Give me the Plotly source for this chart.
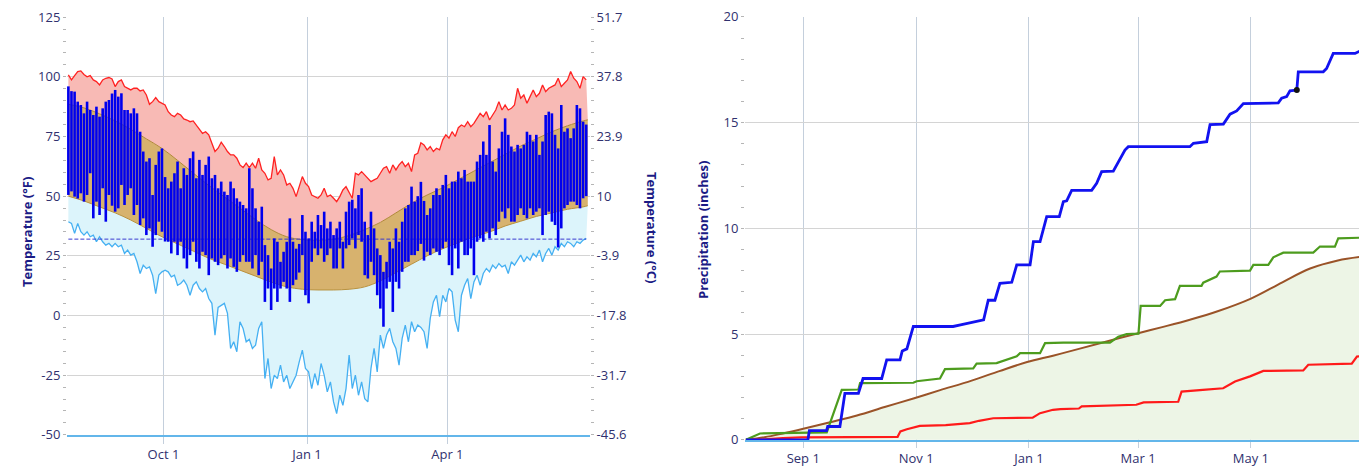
import plotly.graph_objects as go
import pandas as pd

# ---------------- data ----------------
START = "2018-08-01"          # first day shown on both panels
STEP = 2                       # days between samples of the daily temperature series

# Temperature panel (deg F), sampled every STEP days from START
REC_HIGH = [100.8, 98.7, 100.5, 102.2, 102.5, 101.0, 100.0, 100.5, 98.7, 98.0,
            96.6, 98.7, 99.4, 99.7, 99.1, 95.9, 98.0, 98.7, 95.9, 95.2,
            94.5, 95.2, 95.2, 94.1, 94.5, 92.4, 88.5, 89.6, 91.3, 89.6,
            88.9, 88.2, 85.4, 84.0, 83.3, 84.7, 84.0, 82.4, 81.9, 81.2,
            81.5, 79.8, 77.7, 76.3, 77.0, 75.7, 72.2, 68.7, 70.1, 72.6,
            70.8, 68.7, 67.3, 67.3, 65.9, 63.1, 62.0, 63.8, 62.0, 63.8,
            61.7, 65.9, 61.0, 59.6, 56.8, 57.5, 66.6, 58.9, 61.0, 58.9,
            54.7, 55.4, 53.3, 49.8, 54.0, 58.2, 55.4, 54.0, 50.5, 49.8,
            49.1, 50.5, 53.3, 49.8, 50.5, 49.1, 47.7, 49.8, 52.6, 54.0,
            51.2, 49.1, 59.6, 58.9, 60.3, 58.9, 57.5, 56.1, 56.8, 57.5,
            59.6, 61.7, 62.4, 59.6, 63.1, 61.0, 63.1, 64.5, 62.4, 63.8,
            60.3, 67.3, 68.0, 72.4, 71.5, 69.4, 70.8, 68.7, 70.1, 69.4,
            73.6, 75.7, 74.3, 77.0, 75.0, 78.7, 79.8, 79.1, 81.2, 79.1,
            80.5, 82.6, 84.7, 83.3, 85.4, 81.9, 84.0, 86.1, 89.6, 86.1,
            88.2, 86.1, 86.8, 88.2, 95.2, 91.0, 92.4, 88.9, 91.7, 94.5,
            91.7, 93.1, 96.6, 93.8, 95.2, 95.9, 96.6, 99.4, 95.9, 97.3,
            98.7, 102.2, 99.4, 98.0, 95.2, 100.1, 98.7]

REC_LOW = [39.3, 38.6, 34.4, 38.6, 35.1, 33.7, 35.1, 33.0, 33.7, 30.9,
           33.0, 30.9, 29.5, 30.2, 28.8, 30.2, 28.8, 29.5, 26.0, 27.4,
           25.3, 26.0, 22.5, 17.6, 21.1, 19.7, 20.4, 16.9, 9.2, 16.9,
           18.3, 19.0, 18.3, 16.2, 16.9, 12.7, 13.4, 14.8, 12.7, 8.5,
           12.7, 14.1, 11.3, 9.9, 11.3, 7.1, 5.1, -8.2, 3.4, 4.4,
           5.1, 0.9, -13.8, -11.0, -15.2, -2.6, -5.4, -11.0, -10.0, -13.8,
           -12.4, -5.4, -2.6, -26.4, -18.0, -30.6, -25.0, -26.4, -20.8, -27.8,
           -25.0, -30.6, -27.8, -25.0, -19.4, -14.5, -22.2, -23.6, -30.6, -24.3,
           -29.2, -20.1, -25.0, -32.0, -27.8, -36.2, -41.1, -33.4, -37.6, -30.6,
           -16.6, -30.6, -25.0, -33.4, -27.8, -34.8, -36.2, -22.2, -13.8, -23.6,
           -8.2, -13.8, -8.2, -5.4, -11.0, -13.8, -20.8, -9.6, -4.0, -11.0,
           -2.6, -6.8, -4.0, -5.0, -6.8, -13.8, -1.2, 5.7, 8.5, -0.5,
           8.5, 5.7, 11.3, 9.9, -1.9, -6.8, 8.5, 12.7, 15.5, 7.1,
           14.1, 16.9, 12.7, 17.6, 19.7, 18.3, 21.1, 19.7, 21.8, 20.4,
           21.1, 17.6, 22.5, 21.1, 23.2, 25.3, 22.5, 24.6, 23.2, 26.0,
           24.6, 27.4, 22.5, 26.0, 28.1, 25.3, 28.8, 27.4, 30.2, 28.8,
           30.9, 30.2, 28.8, 30.9, 30.2, 31.6, 32.3]

OBS_HIGH = [96.0, 94.0, 93.8, 89.6, 88.2, 84.7, 89.6, 86.1, 84.0, 87.5,
            83.3, 86.8, 89.6, 90.3, 93.0, 94.5, 91.7, 93.1, 86.1, 86.1,
            84.7, 86.8, 84.7, 77.0, 68.7, 64.5, 65.9, 50.5, 63.1, 68.7,
            70.0, 58.0, 53.3, 56.1, 59.6, 64.5, 53.3, 61.7, 58.9, 65.9,
            68.7, 57.5, 65.2, 58.9, 63.1, 66.6, 57.5, 58.9, 53.3, 56.1,
            51.9, 50.5, 56.1, 53.3, 49.1, 47.7, 46.3, 44.9, 61.7, 53.3,
            44.9, 39.3, 45.6, 29.5, 25.3, 19.7, 32.3, 30.9, 22.5, 26.7,
            30.9, 40.7, 30.9, 28.0, 30.0, 42.1, 35.1, 32.3, 39.3, 35.1,
            42.1, 37.9, 43.5, 36.5, 39.3, 33.7, 36.5, 39.3, 30.9, 43.5,
            47.7, 48.5, 44.9, 50.5, 53.3, 39.3, 33.7, 43.5, 36.5, 28.1,
            25.3, 18.3, 22.5, 30.9, 28.1, 36.5, 30.9, 39.3, 44.9, 46.3,
            54.0, 47.7, 50.0, 56.0, 48.0, 42.1, 44.9, 50.5, 53.3, 50.5,
            54.7, 58.9, 53.3, 56.1, 56.1, 60.3, 57.5, 61.0, 56.1, 56.1,
            56.1, 64.5, 67.3, 72.9, 67.3, 79.8, 64.5, 60.3, 70.0, 77.0,
            82.6, 75.7, 70.8, 68.7, 71.5, 70.0, 71.5, 77.0, 75.7, 72.9,
            75.7, 67.3, 72.9, 84.0, 85.4, 84.7, 75.7, 70.0, 88.2, 77.0,
            78.4, 74.3, 78.4, 88.2, 86.8, 81.2, 80.0]

OBS_LOW = [50.5, 52.0, 49.8, 49.0, 51.2, 47.7, 50.5, 59.6, 40.7, 47.7,
           42.1, 53.3, 39.3, 50.5, 46.0, 43.5, 44.9, 54.7, 46.3, 50.5,
           53.3, 42.1, 46.3, 37.9, 40.7, 33.7, 36.5, 28.8, 33.7, 39.3,
           35.1, 31.0, 30.9, 26.0, 30.9, 25.3, 30.9, 23.9, 19.7, 25.3,
           30.9, 22.5, 19.7, 26.7, 25.3, 16.9, 23.9, 22.5, 21.1, 23.9,
           25.3, 19.7, 23.9, 20.4, 18.3, 22.5, 25.3, 22.5, 22.5, 19.7,
           25.3, 16.9, 22.5, 5.7, 11.3, 2.3, 11.3, 5.7, 11.3, 14.1,
           11.3, 5.7, 12.7, 15.0, 18.0, 25.3, 8.5, 5.1, 22.5, 28.1,
           25.3, 28.1, 22.5, 25.3, 28.1, 19.7, 19.7, 28.1, 19.7, 28.1,
           29.5, 32.3, 28.1, 33.7, 30.9, 16.9, 15.5, 22.5, 16.9, 8.5,
           2.9, -4.7, 11.3, 14.1, 1.5, 14.1, 11.3, 18.3, 22.5, 22.5,
           25.3, 25.3, 27.0, 30.0, 23.0, 26.7, 25.3, 28.1, 26.7, 25.3,
           28.1, 30.9, 21.1, 16.9, 28.1, 19.7, 30.9, 25.3, 25.3, 28.1,
           16.9, 30.9, 32.3, 30.9, 35.1, 32.3, 36.5, 33.7, 39.3, 43.5,
           40.7, 44.9, 39.3, 39.3, 42.1, 44.9, 42.1, 40.7, 44.9, 42.1,
           43.5, 44.9, 33.7, 42.1, 43.5, 39.3, 37.9, 28.5, 36.5, 44.9,
           46.3, 47.7, 47.7, 46.3, 44.9, 49.1, 50.0]

NORM_DAYS = [0, 10, 20, 30, 40, 50, 60, 70, 80, 90, 100, 110, 120, 130, 140, 150, 160,
             170, 180, 190, 200, 210, 220, 230, 240, 250, 260, 270, 280, 290, 300,
             310, 320, 330, 333]
NORM_HIGH = [88.5, 87.0, 84.5, 81.5, 78.0, 74.0, 70.0, 65.0, 59.7, 54.5, 49.7, 45.0,
             40.2, 36.0, 33.0, 31.8, 31.5, 32.0, 33.5, 36.0, 39.0, 43.0, 47.0, 50.5,
             53.5, 57.0, 60.5, 64.0, 67.5, 71.0, 74.0, 77.0, 79.5, 81.5, 82.0]
NORM_LOW = [50.0, 48.0, 45.5, 43.0, 40.0, 36.5, 33.0, 30.0, 27.0, 24.0, 21.5, 19.0,
            16.5, 14.0, 12.0, 11.0, 10.7, 10.7, 11.0, 12.0, 14.5, 18.0, 21.5, 25.0,
            28.0, 30.5, 33.0, 35.0, 37.5, 39.5, 41.5, 43.0, 44.5, 45.5, 46.0]
FREEZING_F = 32

F_TICKS = [-50, -25, 0, 25, 50, 75, 100, 125]
F_LABELS = ["-50", "-25", "0", "25", "50", "75", "100", "125"]
C_LABELS = ["-45.6", "-31.7", "-17.8", "-3.9", "10", "23.9", "37.8", "51.7"]
T_XTICKS = ["2018-10-01", "2019-01-01", "2019-04-01"]
T_XLABELS = ["Oct 1", "Jan 1", "Apr 1"]

# Precipitation panel (inches, cumulative), vertices as (days since START, value)
BLUE_DAYS = [0, 33.5, 34.3, 43.6, 44.2, 50.8, 53.5, 60.8, 63.3, 73.4,
             76.1, 83.3, 84.5, 87, 90.5, 112, 116, 123, 128.5, 131,
             134.6, 137.3, 143.7, 146.4, 153.6, 155.4, 159, 162.6, 169.4, 171.6,
             173.4, 176.1, 186.9, 189.6, 192.3, 198.6, 201.3, 204.9, 206.7, 240,
             241.9, 249.1, 250.9, 258.1, 261.7, 265.3, 268.9, 287.8, 289.6, 292.3,
             294.1, 297.8, 298.6, 312.1, 313.9, 317.5, 329.3, 332.9]
BLUE_VALS = [0, 0, 0.44, 0.44, 0.63, 0.63, 2.2, 2.2, 2.9, 2.9,
             3.78, 3.78, 4.2, 4.3, 5.36, 5.36, 5.44, 5.55, 5.67, 6.6,
             6.6, 7.4, 7.45, 8.27, 8.27, 9.37, 9.37, 10.55, 10.55, 11.26,
             11.3, 11.8, 11.8, 12.13, 12.68, 12.7, 13.15, 13.7, 13.86, 13.86,
             14.02, 14.1, 14.9, 14.93, 15.4, 15.55, 15.9, 15.93, 16.15, 16.23,
             16.5, 16.54, 17.4, 17.4, 17.56, 18.27, 18.27, 18.43]

GREEN_DAYS = [0, 7.6, 43.7, 46, 51.8, 60.8, 61.7, 90.5, 92.3, 104.9,
              107.6, 122.9, 124.7, 135.5, 140.9, 146.4, 148.2, 159, 161.7, 171.6,
              196.8, 201.3, 205.8, 212.2, 213.4, 223.9, 226.6, 232, 234.6, 246.3,
              247.2, 254.4, 256.2, 272.5, 274.3, 282.4, 285.1, 290.5, 306.7, 310.3,
              318.4, 320.2, 332.9]
GREEN_VALS = [0, 0.3, 0.35, 0.95, 2.36, 2.38, 2.68, 2.7, 2.77, 2.9,
              3.34, 3.38, 3.6, 3.63, 3.78, 3.95, 4.1, 4.1, 4.57, 4.6,
              4.6, 4.88, 5.0, 5.02, 6.33, 6.33, 6.6, 6.65, 7.28, 7.28,
              7.43, 7.72, 7.96, 8.0, 8.27, 8.27, 8.63, 8.85, 8.85, 9.14,
              9.14, 9.53, 9.56]

RED_DAYS = [0, 10, 20, 30, 82, 83.5, 87, 94, 108, 121, 126, 133.7, 155, 159, 166, 170,
            180, 181.5, 211, 215, 233.7, 235.5, 247, 258, 264.4, 272.5, 279.7, 301.3,
            304, 327.5, 330.3, 333]
RED_VALS = [0, 0.02, 0.08, 0.12, 0.14, 0.4, 0.5, 0.66, 0.7, 0.79, 0.9, 1.02, 1.05, 1.26,
            1.42, 1.45, 1.48, 1.58, 1.66, 1.77, 1.8, 2.28, 2.36, 2.44, 2.76, 3.0, 3.26,
            3.28, 3.55, 3.6, 3.94, 3.95]

NORM_P_DAYS = [0, 10, 20, 31, 45, 60, 75, 91, 105, 122, 137, 152, 166, 180, 195, 211,
               225, 240, 255, 273, 290, 305, 320, 333]
NORM_P_VALS = [0, 0.12, 0.3, 0.52, 0.82, 1.15, 1.55, 1.97, 2.35, 2.8, 3.25, 3.68, 3.98,
               4.3, 4.65, 5.02, 5.33, 5.68, 6.08, 6.68, 7.45, 8.1, 8.48, 8.66]

MARKER_DAY = 297.8
MARKER_VAL = 16.54

P_TICKS = [0, 5, 10, 15, 20]
P_LABELS = ["0", "5", "10", "15", "20"]
P_XTICKS = ["2018-09-01", "2018-11-01", "2019-01-01", "2019-03-01", "2019-05-01"]
P_XLABELS = ["Sep 1", "Nov 1", "Jan 1", "Mar 1", "May 1"]

# ---------------- helpers ----------------
BASE = pd.Timestamp(START)


def to_date(d):
    return (BASE + pd.Timedelta(days=float(d))).strftime("%Y-%m-%d %H:%M:%S")


def dates(days):
    return [to_date(d) for d in days]


daily_days = [i * STEP for i in range(len(REC_HIGH))]
daily_x = dates(daily_days)
norm_x = dates(NORM_DAYS)

# the page body has an 8px margin; size the figure so it fills the window
OFF = 8
W, H = 1367 - OFF, 466 - OFF


def px(x):
    return (x - OFF) / W


def py(y):
    return 1 - (y - OFF) / H


TICK_COLOR = "#30306e"
TITLE_COLOR = "#1b1b85"
GRID_H = "#d4d4d4"
GRID_V = "#c4cfdc"
AXIS_BLUE = "#63b6ea"
FONT = "Open Sans"

fig = go.Figure()

# --- temperature panel ---
fig.add_trace(go.Scatter(x=daily_x, y=REC_LOW, mode="lines",
                         line=dict(color="#45b0f2", width=1.3), hoverinfo="skip"))
fig.add_trace(go.Scatter(x=norm_x, y=NORM_LOW, mode="lines", line_shape="spline",
                         line=dict(color="#b8913e", width=1), fill="tonexty",
                         fillcolor="#dcf4fb", hoverinfo="skip"))
fig.add_trace(go.Scatter(x=norm_x, y=NORM_HIGH, mode="lines", line_shape="spline",
                         line=dict(color="#b08838", width=1), fill="tonexty",
                         fillcolor="#d7b26e", hoverinfo="skip"))
fig.add_trace(go.Scatter(x=daily_x, y=REC_HIGH, mode="lines",
                         line=dict(color="#ff2222", width=1.3), fill="tonexty",
                         fillcolor="#f8bab5", hoverinfo="skip"))
fig.add_trace(go.Scatter(x=[daily_x[0], daily_x[-1]], y=[FREEZING_F, FREEZING_F],
                         mode="lines", line=dict(color="#3a3ad0", width=1, dash="4px,2px"),
                         hoverinfo="skip"))

seg_x, seg_y = [], []
for dx, lo, hi in zip(daily_x, OBS_LOW, OBS_HIGH):
    seg_x += [dx, dx, None]
    seg_y += [lo, hi, None]
fig.add_trace(go.Scatter(x=seg_x, y=seg_y, mode="lines",
                         line=dict(color="#0000ee", width=2.6), hoverinfo="skip"))
# anchor trace so the Celsius axis is drawn
fig.add_trace(go.Scatter(x=[daily_x[0]], y=[FREEZING_F], yaxis="y2", mode="markers",
                         marker=dict(opacity=0), hoverinfo="skip"))

# --- precipitation panel ---
fig.add_trace(go.Scatter(x=dates(NORM_P_DAYS), y=NORM_P_VALS, xaxis="x2", yaxis="y3",
                         mode="lines", line_shape="spline",
                         line=dict(color="#9a5328", width=2), fill="tozeroy",
                         fillcolor="#edf5e6", hoverinfo="skip"))
fig.add_trace(go.Scatter(x=dates(RED_DAYS), y=RED_VALS, xaxis="x2", yaxis="y3",
                         mode="lines", line=dict(color="#ff1a1a", width=2.2),
                         hoverinfo="skip"))
fig.add_trace(go.Scatter(x=dates(GREEN_DAYS), y=GREEN_VALS, xaxis="x2", yaxis="y3",
                         mode="lines", line=dict(color="#4d9c1e", width=2.2),
                         hoverinfo="skip"))
fig.add_trace(go.Scatter(x=dates(BLUE_DAYS), y=BLUE_VALS, xaxis="x2", yaxis="y3",
                         mode="lines", line=dict(color="#1212f0", width=2.8),
                         hoverinfo="skip"))
fig.add_trace(go.Scatter(x=[to_date(MARKER_DAY)], y=[MARKER_VAL], xaxis="x2", yaxis="y3",
                         mode="markers", marker=dict(color="#111111", size=6),
                         hoverinfo="skip"))

tick_font = dict(family=FONT, size=13, color=TICK_COLOR)
minor_y = dict(ticks="outside", ticklen=3, tickcolor="#b5b5b5", showgrid=False)
T_RANGE = [-50.06, 125.06]
P_RANGE = [-0.008, 20.008]

fig.update_layout(
    width=W, height=H, margin=dict(l=0, r=0, t=0, b=0, autoexpand=False),
    paper_bgcolor="white", plot_bgcolor="white", showlegend=False,
    font=dict(family=FONT, size=13, color=TICK_COLOR),
    xaxis=dict(domain=[px(67), px(590)], anchor="y", type="date",
               range=["2018-07-31 03:00", "2019-07-01 10:00"],
               tickmode="array", tickvals=T_XTICKS, ticktext=T_XLABELS,
               showgrid=True, gridcolor=GRID_V, gridwidth=1,
               ticks="outside", ticklen=7, tickcolor=GRID_V,
               showline=True, linecolor=AXIS_BLUE, linewidth=1.6,
               zeroline=False, tickfont=tick_font, automargin=False,
               ticklabeloverflow="allow"),
    yaxis=dict(domain=[py(435), py(17)], anchor="x", range=T_RANGE,
               tickmode="array", tickvals=F_TICKS, ticktext=F_LABELS,
               showgrid=True, gridcolor=GRID_H, zeroline=False,
               ticks="outside", ticklen=3, tickcolor="#b5b5b5",
               minor=dict(tickmode="linear", tick0=0, dtick=5, **minor_y),
               tickfont=tick_font, automargin=False, ticklabeloverflow="allow"),
    yaxis2=dict(overlaying="y", anchor="x", side="right", range=T_RANGE,
                tickmode="array", tickvals=F_TICKS, ticktext=C_LABELS,
                showgrid=False, zeroline=False,
                ticks="outside", ticklen=3, tickcolor="#b5b5b5",
                minor=dict(tickmode="linear", tick0=0, dtick=5, **minor_y),
                tickfont=tick_font, automargin=False, ticklabeloverflow="allow"),
    xaxis2=dict(domain=[px(745), px(1362)], anchor="y3", type="date",
                range=["2018-07-31 12:00", "2019-06-30 01:00"],
                tickmode="array", tickvals=P_XTICKS, ticktext=P_XLABELS,
                showgrid=True, gridcolor=GRID_V, gridwidth=1,
                ticks="outside", ticklen=6, tickcolor=GRID_V,
                showline=True, linecolor=AXIS_BLUE, linewidth=1.6,
                zeroline=False, tickfont=tick_font, automargin=False,
                ticklabeloverflow="allow"),
    yaxis3=dict(domain=[py(440), py(16.7)], anchor="x2", range=P_RANGE,
                tickmode="array", tickvals=P_TICKS, ticktext=P_LABELS,
                showgrid=True, gridcolor=GRID_H, zeroline=False,
                ticks="outside", ticklen=3, tickcolor="#b5b5b5",
                minor=dict(tickmode="linear", tick0=0, dtick=1, **minor_y),
                tickfont=tick_font, automargin=False, ticklabeloverflow="allow"),
    annotations=[
        dict(text="<b>Temperature (°F)</b>", x=px(16), y=py(232), xref="paper",
             yref="paper", showarrow=False, textangle=-90,
             font=dict(family=FONT, size=13, color=TITLE_COLOR)),
        dict(text="<b>Temperature (°C)</b>", x=px(652), y=py(227), xref="paper",
             yref="paper", showarrow=False, textangle=90,
             font=dict(family=FONT, size=13, color=TITLE_COLOR)),
        dict(text="<b>Precipitation (inches)</b>", x=px(703), y=py(230),
             xref="paper", yref="paper", showarrow=False, textangle=-90,
             font=dict(family=FONT, size=13, color=TITLE_COLOR)),
    ],
)

fig.write_html("out.html")
